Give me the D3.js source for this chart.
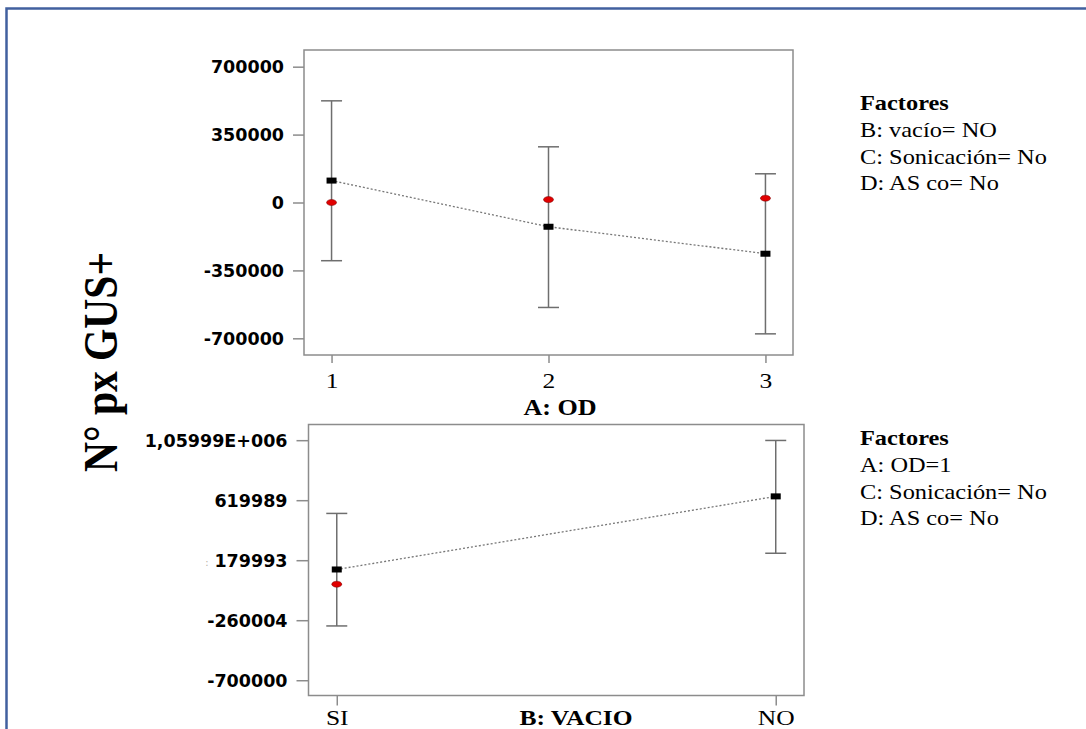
<!DOCTYPE html>
<html>
<head>
<meta charset="utf-8">
<script src="https://cdn.jsdelivr.net/npm/d3@7"></script>
<style>
  html, body { margin: 0; padding: 0; background: #fff; }
  svg { display: block; }
</style>
</head>
<body>
<div id="chart"></div>
<script>
// --- data: panel A (OD) ---
const odLevels = ["1", "2", "3"];
const odPredicted = [113000, -125000, -264000];
const odObserved = [0, 15000, 22000];
const odLower = [-300000, -541000, -677000];
const odUpper = [524000, 287000, 148000];
const odTicks = [-700000, -350000, 0, 350000, 700000];
const odTickLabels = ["-700000", "-350000", "0", "350000", "700000"];
const odFactors = ["B: vacío= NO", "C: Sonicación= No", "D: AS co= No"];

// --- data: panel B (VACIO) ---
const vacioLevels = ["SI", "NO"];
const vacioPredicted = [112000, 648000];
const vacioObserved = [4000, null];
const vacioLower = [-302000, 231000];
const vacioUpper = [523000, 1058000];
const vacioTicks = [-700000, -260004, 179993, 619989, 1059986];
const vacioTickLabels = ["-700000", "-260004", "179993", "619989", "1,05999E+006"];
const vacioFactors = ["A: OD=1", "C: Sonicación= No", "D: AS co= No"];

const W = 1086, H = 729;
const STRETCH = 1.16; // the source picture is stretched horizontally
const serif = "'Liberation Serif', 'Times New Roman', serif";
const sans = "'DejaVu Sans', Verdana, sans-serif";

const svg = d3.select("#chart").append("svg")
    .attr("width", W)
    .attr("height", H);

// Outer frame (top and left only, the rest is cut off)
svg.append("path")
    .attr("d", `M${W},8.5 H6.5 V${H}`)
    .attr("fill", "none")
    .attr("stroke", "#41609f")
    .attr("stroke-width", 2.5);

// Shared y title
svg.append("text")
    .attr("transform", `translate(117,362) scale(${STRETCH},1) rotate(-90)`)
    .attr("text-anchor", "middle")
    .style("font-family", serif)
    .style("font-weight", "bold")
    .style("font-size", "41.5px")
    .attr("fill", "#000")
    .text("N° px GUS+");

// stray crop marks left of the lower axis
svg.append("text")
    .attr("x", 207).attr("y", 566)
    .attr("text-anchor", "middle")
    .style("font-family", sans)
    .style("font-size", "10px")
    .attr("fill", "#8a7a6a")
    .attr("opacity", 0.6)
    .text(":");

function drawPanel(cfg) {
    const { box, levels, predicted, observed, lower, upper, ticks, tickLabels,
            yDomain, xPad, xTickSize, yTickSize, title, factors } = cfg;

    const g = svg.append("g");

    const x = d3.scalePoint()
        .domain(levels)
        .range([box.left, box.right])
        .padding(xPad);

    const y = d3.scaleLinear()
        .domain(yDomain)
        .range([box.bottom, box.top]);

    // Plot frame
    g.append("rect")
        .attr("x", box.left)
        .attr("y", box.top)
        .attr("width", box.right - box.left)
        .attr("height", box.bottom - box.top)
        .attr("fill", "none")
        .attr("stroke", "#8c8c8c")
        .attr("stroke-width", 1.5);

    // Y axis
    const gy = g.append("g")
        .attr("transform", `translate(${box.left},0)`)
        .call(d3.axisLeft(y).tickValues(ticks).tickSize(yTickSize)
            .tickFormat((d, i) => tickLabels[i]));
    gy.select(".domain").remove();
    gy.selectAll(".tick line").attr("stroke", "#8c8c8c").attr("stroke-width", 1.5);
    gy.selectAll(".tick text")
        .attr("x", -(yTickSize + 9))
        .attr("dy", "0.36em")
        .attr("fill", "#000")
        .style("font-family", sans)
        .style("font-weight", "bold")
        .style("font-size", "17.5px");

    // X axis
    const gx = g.append("g")
        .attr("transform", `translate(0,${box.bottom})`)
        .call(d3.axisBottom(x).tickSize(xTickSize));
    gx.select(".domain").remove();
    gx.selectAll(".tick line").attr("stroke", "#8c8c8c").attr("stroke-width", 1.5);
    gx.selectAll(".tick text")
        .attr("y", cfg.xLabelBaseline - box.bottom)
        .attr("dy", null)
        .attr("transform", `scale(${STRETCH},1)`)
        .attr("fill", "#000")
        .style("font-family", serif)
        .style("font-size", "22px");

    // Axis title
    g.append("text")
        .attr("transform", `translate(${title.x},${title.y}) scale(${STRETCH},1)`)
        .attr("text-anchor", "middle")
        .style("font-family", serif)
        .style("font-weight", "bold")
        .style("font-size", title.size + "px")
        .attr("fill", "#000")
        .text(title.text);

    const data = levels.map((lv, i) => ({
        lv, pred: predicted[i], obs: observed[i], lo: lower[i], hi: upper[i]
    }));

    // Error bars
    const bars = g.append("g").attr("stroke", "#6e6e6e").attr("stroke-width", 1.5);
    bars.selectAll(".stem").data(data).join("line")
        .attr("x1", d => x(d.lv)).attr("x2", d => x(d.lv))
        .attr("y1", d => y(d.lo)).attr("y2", d => y(d.hi));
    bars.selectAll(".capHi").data(data).join("line")
        .attr("x1", d => x(d.lv) - 10.5).attr("x2", d => x(d.lv) + 10.5)
        .attr("y1", d => y(d.hi)).attr("y2", d => y(d.hi));
    bars.selectAll(".capLo").data(data).join("line")
        .attr("x1", d => x(d.lv) - 10.5).attr("x2", d => x(d.lv) + 10.5)
        .attr("y1", d => y(d.lo)).attr("y2", d => y(d.lo));

    // Prediction line
    g.append("path")
        .datum(data)
        .attr("fill", "none")
        .attr("stroke", "#777")
        .attr("stroke-width", 1.3)
        .attr("stroke-dasharray", "2,2")
        .attr("d", d3.line().x(d => x(d.lv)).y(d => y(d.pred)));

    // Observed points (red)
    g.selectAll(".obs").data(data.filter(d => d.obs !== null)).join("ellipse")
        .attr("cx", d => x(d.lv))
        .attr("cy", d => y(d.obs))
        .attr("rx", 5)
        .attr("ry", 3)
        .attr("fill", "#e00000")
        .attr("stroke", "#700")
        .attr("stroke-width", 0.5);

    // Predicted points (black)
    g.selectAll(".pred").data(data).join("rect")
        .attr("x", d => x(d.lv) - 5)
        .attr("y", d => y(d.pred) - 3)
        .attr("width", 10)
        .attr("height", 6)
        .attr("fill", "#000");

    // Factor legend
    const leg = g.append("g").attr("transform", `translate(860,${cfg.legendY})`);
    leg.append("text")
        .attr("transform", `scale(${STRETCH},1)`)
        .style("font-family", serif)
        .style("font-weight", "bold")
        .style("font-size", "21px")
        .attr("fill", "#000")
        .text("Factores");
    factors.forEach((f, i) => {
        leg.append("text")
            .attr("transform", `translate(0,${(i + 1) * 26.8}) scale(${STRETCH},1)`)
            .style("font-family", serif)
            .style("font-size", "21px")
            .attr("fill", "#000")
            .text(f);
    });
}

drawPanel({
    box: { left: 304, right: 793, top: 50, bottom: 355 },
    levels: odLevels, predicted: odPredicted, observed: odObserved,
    lower: odLower, upper: odUpper, ticks: odTicks, tickLabels: odTickLabels,
    yDomain: [-786000, 786000], xPad: 0.127,
    xTickSize: 8, yTickSize: 11, xLabelBaseline: 388,
    title: { text: "A: OD", x: 560, y: 415, size: 22.5 },
    factors: odFactors, legendY: 110
});

drawPanel({
    box: { left: 308.5, right: 804, top: 424.5, bottom: 695.5 },
    levels: vacioLevels, predicted: vacioPredicted, observed: vacioObserved,
    lower: vacioLower, upper: vacioUpper, ticks: vacioTicks, tickLabels: vacioTickLabels,
    yDomain: [-812000, 1175000], xPad: 0.0644,
    xTickSize: 10, yTickSize: 12, xLabelBaseline: 725,
    title: { text: "B: VACIO", x: 576, y: 725, size: 22 },
    factors: vacioFactors, legendY: 445
});
</script>
</body>
</html>
